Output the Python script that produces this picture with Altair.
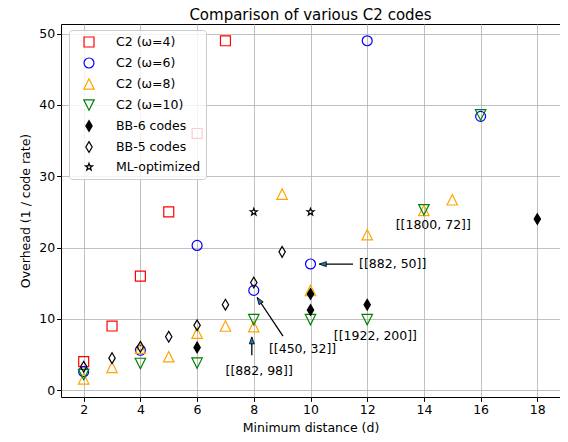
import math
import altair as alt
import pandas as pd

FONT = "DejaVu Sans"

# ---- data ----
series_names = ["C2 (ω=4)", "C2 (ω=6)", "C2 (ω=8)", "C2 (ω=10)",
                "BB-6 codes", "BB-5 codes", "ML-optimized"]

w4_d = [2, 3, 4, 5, 6, 7]
w4_ov = [4, 9, 16, 25, 36, 49]
w6_d = [2, 4, 6, 8, 10, 12, 16]
w6_ov = [2.6, 5.6, 20.3, 14.0, 17.7, 49.0, 38.4]
w8_d = [2, 3, 4, 5, 6, 7, 8, 9, 10, 12, 14, 15]
w8_ov = [1.6, 3.2, 5.9, 4.7, 8.0, 9.0, 8.9, 27.5, 14.0, 21.8, 25.2, 26.7]
w10_d = [2, 4, 6, 8, 10, 12, 14, 16]
w10_ov = [2.2, 3.75, 3.8, 9.9, 9.9, 9.9, 25.3, 38.6]
bb6_d = [6, 10, 10, 12, 18]
bb6_ov = [6, 13.5, 11.25, 12, 24]
bb5_d = [2, 3, 4, 5, 6, 7, 8, 9]
bb5_ov = [3.3, 4.5, 6.1, 7.5, 9.1, 12.0, 15.1, 19.4]
ml_d = [8, 10]
ml_ov = [25, 25]

# annotations (data coordinates)
ann_text = ["[[882, 98]]", "[[450, 32]]", "[[882, 50]]", "[[1922, 200]]", "[[1800, 72]]"]
ann_text_x = [8.19, 9.72, 12.9, 12.29, 14.33]
ann_text_y = [2.71, 5.75, 17.68, 7.62, 23.15]

arrow_tail_x = [7.93, 9.03, 11.5]
arrow_tail_y = [4.91, 7.58, 17.68]
arrow_tip_x = [7.93, 8.12, 10.31]
arrow_tip_y = [7.48, 13.0, 17.68]
arrow_angle = [0, 326, 270]

x_ticks = [2, 4, 6, 8, 10, 12, 14, 16, 18]
y_ticks = [0, 10, 20, 30, 40, 50]

# legend labels get two trailing no-break spaces (invisible) for right-hand legend margin
legend_labels = [s + "\u00a0\u00a0" for s in series_names]

# ---- marker styles (custom unit paths, all drawn at one symbol size) ----
SYM_SIZE = 144  # path unit 1 == 6 px
stroke_colors = ["red", "blue", "orange", "green", "black", "black", "black"]
fill_colors = ["transparent", "transparent", "transparent", "transparent",
               "black", "transparent", "transparent"]

SQUARE = "M-0.83,-0.83L0.83,-0.83L0.83,0.83L-0.83,0.83Z"
CIRCLE = "M0.83,0A0.83,0.83 0 1,1 -0.83,0A0.83,0.83 0 1,1 0.83,0Z"
TRI_UP = "M0,-0.87L0.87,0.87L-0.87,0.87Z"
TRI_DOWN = "M0,0.87L0.87,-0.87L-0.87,-0.87Z"
THIN_DIAMOND = "M0,-0.89L0.53,0L0,0.89L-0.53,0Z"


def star_path(r_out, r_in):
    pts = []
    for k in range(10):
        r = r_out if k % 2 == 0 else r_in
        a = math.radians(-90 + 36 * k)
        pts.append(f"{r * math.cos(a):.3f},{r * math.sin(a):.3f}")
    return "M" + "L".join(pts) + "Z"


STAR = star_path(0.62, 0.25)
shapes = [SQUARE, CIRCLE, TRI_UP, TRI_DOWN, THIN_DIAMOND, THIN_DIAMOND, STAR]

rows = []
for name, ds, vs in zip(legend_labels,
                        [w4_d, w6_d, w8_d, w10_d, bb6_d, bb5_d, ml_d],
                        [w4_ov, w6_ov, w8_ov, w10_ov, bb6_ov, bb5_ov, ml_ov]):
    for d, v in zip(ds, vs):
        rows.append({"d": d, "ov": v, "series": name})
points_df = pd.DataFrame(rows)

ann_df = pd.DataFrame({"ax": ann_text_x, "ay": ann_text_y, "t": ann_text})
arr_df = pd.DataFrame({"tx": arrow_tail_x, "ty": arrow_tail_y,
                       "hx": arrow_tip_x, "hy": arrow_tip_y, "ang": arrow_angle})

xs = alt.Scale(domain=[1.2, 18.8], nice=False, zero=False)
ys = alt.Scale(domain=[-0.95, 51.35], nice=False, zero=False)

x_axis = alt.Axis(values=x_ticks, title="Minimum distance (d)", format="d")
y_axis = alt.Axis(values=y_ticks, title="Overhead (1 / code rate)", format="d")

dom = legend_labels
points = alt.Chart(points_df).mark_point(
    filled=False, opacity=1, strokeWidth=1.2, size=SYM_SIZE
).encode(
    x=alt.X("d:Q", scale=xs, axis=x_axis),
    y=alt.Y("ov:Q", scale=ys, axis=y_axis),
    shape=alt.Shape("series:N", scale=alt.Scale(domain=dom, range=shapes), title=None),
    stroke=alt.Stroke("series:N", scale=alt.Scale(domain=dom, range=stroke_colors), title=None),
    fill=alt.Fill("series:N", scale=alt.Scale(domain=dom, range=fill_colors), title=None),
)

arrow_lines = alt.Chart(arr_df).mark_rule(color="black", strokeWidth=1.3).encode(
    x=alt.X("tx:Q", scale=xs), y=alt.Y("ty:Q", scale=ys),
    x2=alt.X2("hx"), y2=alt.Y2("hy"),
)
arrow_heads = alt.Chart(arr_df).mark_point(
    shape="M0,0L-0.5,1.4L0.5,1.4Z", filled=True, fill="#1f77b4", stroke="black",
    strokeWidth=0.8, opacity=1, size=100,
).encode(
    x=alt.X("hx:Q", scale=xs), y=alt.Y("hy:Q", scale=ys),
    angle=alt.Angle("ang:Q", scale=None),
)
ann_texts = alt.Chart(ann_df).mark_text(
    font=FONT, fontSize=12.5, color="black", align="center", baseline="middle"
).encode(
    x=alt.X("ax:Q", scale=xs), y=alt.Y("ay:Q", scale=ys), text="t:N",
)

chart = alt.layer(points, arrow_lines, arrow_heads, ann_texts).properties(
    width=499, height=373,
    title=alt.TitleParams("Comparison of various C2 codes", fontSize=15, font=FONT,
                          fontWeight="normal", color="black", anchor="middle", offset=1),
    autosize=alt.AutoSizeParams(type="none"),
    padding={"left": 53, "top": 16, "right": 0, "bottom": 40},
).configure_view(
    stroke="black", strokeWidth=1,
).configure_axis(
    grid=True, gridColor="#b0b0b0", gridWidth=0.8, domain=False,
    tickColor="black", tickSize=4.4, tickWidth=1,
    labelFont=FONT, labelFontSize=12.5, labelColor="black", labelPadding=2,
    titleFont=FONT, titleFontSize=12.5, titleColor="black", titleFontWeight="normal",
).configure_axisY(titlePadding=6).configure_axisX(titlePadding=6).configure_legend(
    orient="none", legendX=8, legendY=6,
    fillColor="rgba(255,255,255,0.8)", strokeColor="#cccccc", cornerRadius=3,
    padding=5, symbolOffset=8, labelOffset=20, rowPadding=5,
    labelFontSize=12.5, labelFont=FONT, labelColor="black",
    symbolSize=SYM_SIZE, symbolStrokeWidth=1.2, symbolOpacity=1,
)

chart.save("out.html", embed_options={"renderer": "svg", "actions": False})
